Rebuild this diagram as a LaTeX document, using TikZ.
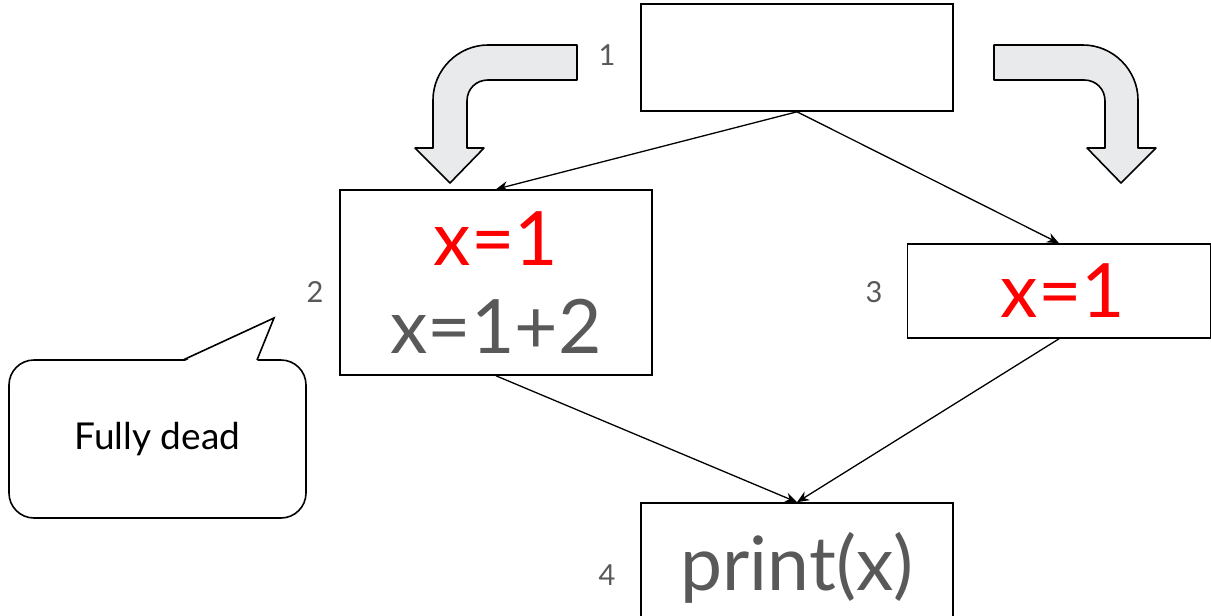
\documentclass[tikz,border=0pt]{standalone}
\usepackage{fontspec}
\setmainfont{Lato}
\usetikzlibrary{arrows.meta,positioning}
\definecolor{textgray}{HTML}{595959}
\definecolor{bendfill}{HTML}{E8EAEB}
\definecolor{codered}{HTML}{FF0000}

\begin{document}
\begin{tikzpicture}[x=1pt, y=-1pt,
    block/.style={draw, line width=1.6pt, inner sep=0pt, text=textgray, align=center,
      font=\fontsize{75}{88}\selectfont},
    num/.style={text=textgray, font=\fontsize{29}{34}\selectfont},
    flow/.style={-{Stealth[length=12pt, width=10pt]}, line width=1.3pt},
    bentarrow/.style={draw, fill=bendfill, line width=1.6pt, line join=round}]
        \useasboundingbox (0,0) rectangle (1211,616);
        \clip (0,0) rectangle (1211,616);

        % Blocks
        \node[block, minimum width=312, minimum height=107] (b1) at (797,57.5) {};
        \node[block, minimum width=312, minimum height=185] (b2) at (496,282.5) {\textcolor{codered}{x=1}\\x=1+2};
        \node[block, minimum width=303, minimum height=94] (b3) at (1059,291) {\hspace{8pt}\textcolor{codered}{x=1}};
        \node[block, minimum width=312, minimum height=130] (b4) at (797,568) {print(x)};

        % Block numbers
        \node[num] (n1) at (607,55) {1};
        \node[num] (n2) at (315,292) {2};
        \node[num] (n3) at (874,292) {3};
        \node[num] (n4) at (607,575) {4};

        % Edges
        \draw[flow] (b1.south) -- (b2.north);
        \draw[flow] (b1.south) -- (b3.north);
        \draw[flow] (b2.south) -- (b4.north);
        \draw[flow] (b3.south) -- (b4.north);

        % Bent arrows
        \draw[bentarrow] (577,45) -- (488,45) .. controls (458,45) and (433,70) .. (433,100)
            -- (433,148) -- (415,148) -- (450,183) -- (484,148) -- (467,148) -- (467,101)
            .. controls (467,89) and (476,80) .. (488,80) -- (577,80) -- cycle;
        \draw[bentarrow] (994,45) -- (1083,45) .. controls (1113,45) and (1138,70) .. (1138,100)
            -- (1138,148) -- (1156,148) -- (1121,183) -- (1087,148) -- (1105,148) -- (1105,101)
            .. controls (1105,89) and (1096,80) .. (1084,80) -- (994,80) -- cycle;

        % Callout
        \node[draw, line width=1.6pt, rounded corners=25pt, minimum width=297, minimum height=158,
            font=\fontsize{37}{44}\selectfont] (dead) at (157.5,439) {\raisebox{-3pt}{Fully dead}};
        \fill[white] (183,362) -- (274,318) -- (257,362) -- cycle;
        \draw[line width=1.6pt, line join=miter] (183,360) -- (274,318) -- (257,360);
\end{tikzpicture}
\end{document}
